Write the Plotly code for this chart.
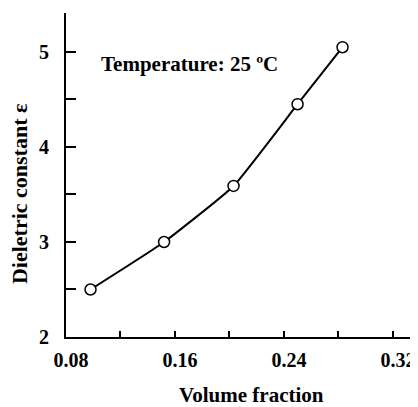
import plotly.graph_objects as go

volume_fraction = [0.098, 0.152, 0.203, 0.250, 0.283]
dielectric_constant = [2.50, 3.00, 3.59, 4.45, 5.05]

x_ticks = [0.08, 0.16, 0.24, 0.32]
x_tick_labels = ["0.08", "0.16", "0.24", "0.32"]
y_ticks = [2, 3, 4, 5]
y_tick_labels = ["2", "3", "4", "5"]

FONT = "Liberation Serif, Times New Roman, serif"

fig = go.Figure()
fig.add_trace(go.Scatter(
    x=volume_fraction, y=dielectric_constant,
    mode="lines+markers",
    line=dict(color="black", width=2, shape="spline", smoothing=0.4),
    marker=dict(symbol="circle", size=11, color="white",
                line=dict(color="black", width=1.5)),
    showlegend=False, cliponaxis=False,
))

fig.add_annotation(
    x=0.0, y=0.843, xref="paper", yref="paper",
    xanchor="left", yanchor="middle", xshift=33,
    text="Temperature: 25 \u00baC", showarrow=False,
    font=dict(family=FONT, size=21, color="black", weight="bold"),
)
fig.add_annotation(
    x=0.535, y=-0.18, xref="paper", yref="paper",
    xanchor="center", yanchor="middle", height=22,
    text="Volume fraction", showarrow=False,
    font=dict(family=FONT, size=21, color="black", weight="bold"),
)
fig.add_annotation(
    x=-0.136, y=0.441, xref="paper", yref="paper",
    xanchor="center", yanchor="middle", textangle=-90,
    text="Dieletric constant \u03b5", showarrow=False,
    font=dict(family=FONT, size=22, color="black", weight="bold"),
)

fig.update_layout(
    width=410, height=399,
    margin=dict(l=58, r=6, t=5, b=70),
    paper_bgcolor="white", plot_bgcolor="white",
    font=dict(family=FONT, color="black"),
    xaxis=dict(
        range=[0.08, 0.334], automargin=False,
        tickmode="array", tickvals=x_ticks, ticktext=x_tick_labels,
        ticks="inside", ticklen=6, tickwidth=1.5, tickcolor="black",
        minor=dict(tickmode="array", tickvals=[0.12, 0.20, 0.28],
                   ticks="inside", ticklen=6, tickwidth=1.5, tickcolor="black"),
        showline=True, linecolor="black", linewidth=2,
        showgrid=False, zeroline=False,
        tickfont=dict(family=FONT, size=20, weight="bold"),
        ticklabelstandoff=4, ticklabelshift=5,
    ),
    yaxis=dict(
        range=[2, 5.41], automargin=False,
        tickmode="array", tickvals=y_ticks, ticktext=y_tick_labels,
        ticks="inside", ticklen=10, tickwidth=1.5, tickcolor="black",
        minor=dict(tickmode="array", tickvals=[2.5, 3.5, 4.5],
                   ticks="inside", ticklen=10, tickwidth=1.5, tickcolor="black"),
        showline=True, linecolor="black", linewidth=2,
        showgrid=False, zeroline=False,
        tickfont=dict(family=FONT, size=20, weight="bold"),
        ticklabelstandoff=11,
    ),
)

fig.write_html("out.html")
